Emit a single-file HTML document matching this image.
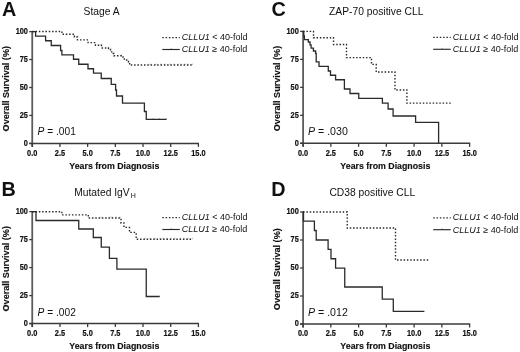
<!DOCTYPE html>
<html><head><meta charset="utf-8"><style>
html,body{margin:0;padding:0;background:#fff;}
svg{display:block;filter:grayscale(1);}
text{font-family:"Liberation Sans", sans-serif;fill:#111;}
.pl{font-size:19.8px;font-weight:bold;}
.tt{font-size:10.3px;}
.tt2{font-size:10.3px;}
.tk{font-size:8.8px;font-weight:bold;stroke:#111;stroke-width:0.2px;}
.ax{font-size:8.8px;font-weight:bold;stroke:#111;stroke-width:0.15px;}
.lg{font-size:9px;}
.ay{font-size:9.1px;font-weight:bold;stroke:#111;stroke-width:0.15px;}
.pv{font-size:10.2px;}
.pv2{font-size:10.6px;}
</style></head><body>
<svg width="520" height="352" viewBox="0 0 520 352">
<rect width="520" height="352" fill="#fff"/>
<text x="2.0" y="15.9" class="pl">A</text>
<text x="83.6" y="15.2" class="tt">Stage A</text>
<line x1="32.25" y1="31" x2="32.25" y2="146.9" stroke="#5c5c5c" stroke-width="1.8"/>
<line x1="29.25" y1="143.4" x2="199" y2="143.4" stroke="#3a3a3a" stroke-width="1.5"/>
<line x1="29.25" y1="31.6" x2="32.25" y2="31.6" stroke="#3a3a3a" stroke-width="1.3"/>
<text transform="translate(27.95 34) scale(0.84 1)" class="tk" text-anchor="end">100</text>
<line x1="29.25" y1="59.55" x2="32.25" y2="59.55" stroke="#3a3a3a" stroke-width="1.3"/>
<text transform="translate(27.95 61.95) scale(0.84 1)" class="tk" text-anchor="end">75</text>
<line x1="29.25" y1="87.5" x2="32.25" y2="87.5" stroke="#3a3a3a" stroke-width="1.3"/>
<text transform="translate(27.95 89.9) scale(0.84 1)" class="tk" text-anchor="end">50</text>
<line x1="29.25" y1="115.45" x2="32.25" y2="115.45" stroke="#3a3a3a" stroke-width="1.3"/>
<text transform="translate(27.95 117.85) scale(0.84 1)" class="tk" text-anchor="end">25</text>
<line x1="29.25" y1="143.4" x2="32.25" y2="143.4" stroke="#3a3a3a" stroke-width="1.3"/>
<text transform="translate(27.95 145.8) scale(0.84 1)" class="tk" text-anchor="end">0</text>
<line x1="32.25" y1="143.4" x2="32.25" y2="146.9" stroke="#3a3a3a" stroke-width="1.3"/>
<text transform="translate(32.25 155.7) scale(0.84 1)" class="tk" text-anchor="middle">0.0</text>
<line x1="59.94" y1="143.4" x2="59.94" y2="146.9" stroke="#3a3a3a" stroke-width="1.3"/>
<text transform="translate(59.94 155.7) scale(0.84 1)" class="tk" text-anchor="middle">2.5</text>
<line x1="87.63" y1="143.4" x2="87.63" y2="146.9" stroke="#3a3a3a" stroke-width="1.3"/>
<text transform="translate(87.63 155.7) scale(0.84 1)" class="tk" text-anchor="middle">5.0</text>
<line x1="115.33" y1="143.4" x2="115.33" y2="146.9" stroke="#3a3a3a" stroke-width="1.3"/>
<text transform="translate(115.33 155.7) scale(0.84 1)" class="tk" text-anchor="middle">7.5</text>
<line x1="143.02" y1="143.4" x2="143.02" y2="146.9" stroke="#3a3a3a" stroke-width="1.3"/>
<text transform="translate(143.02 155.7) scale(0.84 1)" class="tk" text-anchor="middle">10.0</text>
<line x1="170.71" y1="143.4" x2="170.71" y2="146.9" stroke="#3a3a3a" stroke-width="1.3"/>
<text transform="translate(170.71 155.7) scale(0.84 1)" class="tk" text-anchor="middle">12.5</text>
<line x1="198.4" y1="143.4" x2="198.4" y2="146.9" stroke="#3a3a3a" stroke-width="1.3"/>
<text transform="translate(198.4 155.7) scale(0.84 1)" class="tk" text-anchor="middle">15.0</text>
<text x="114.33" y="168.7" class="ax" text-anchor="middle">Years from Diagnosis</text>
<text transform="translate(9.05 88.7) rotate(-90)" class="ay" text-anchor="middle">Overall Survival (%)</text>
<line x1="162.3" y1="37.6" x2="179.8" y2="37.6" stroke="#2a2a2a" stroke-width="1.2" stroke-dasharray="1.5 1.8"/>
<text x="181.8" y="40" class="lg"><tspan font-style="italic">CLLU1</tspan> &lt; 40-fold</text>
<line x1="162.3" y1="49.5" x2="179.8" y2="49.5" stroke="#2a2a2a" stroke-width="1.15"/>
<line x1="171.3" y1="49.5" x2="171.3" y2="48" stroke="#2a2a2a" stroke-width="0.8" opacity="0.5"/>
<text x="181.8" y="52.4" class="lg"><tspan font-style="italic">CLLU1</tspan> ≥ 40-fold</text>
<path d="M32.25 31.6 L35.6 31.6 L35.6 36.1 L45.6 36.1 L45.6 40.75 L51.25 40.75 L51.25 45.5 L60.6 45.5 L60.6 50.5 L61.9 50.5 L61.9 54.9 L73.5 54.9 L73.5 59.25 L78.75 59.25 L78.75 64.25 L88 64.25 L88 68.75 L93.5 68.75 L93.5 73.1 L101.25 73.1 L101.25 78.5 L111.25 78.5 L111.25 84.4 L115.6 84.4 L115.6 90 L116.5 90 L116.5 96 L122.5 96 L122.5 103.1 L144.4 103.1 L144.4 111.5 L146.25 111.5 L146.25 119.4 L166.5 119.4" fill="none" stroke="#2a2a2a" stroke-width="1.3"/>
<line x1="153.1" y1="119.4" x2="153.1" y2="118" stroke="#2a2a2a" stroke-width="0.8" opacity="0.45"/>
<line x1="159.4" y1="119.4" x2="159.4" y2="118" stroke="#2a2a2a" stroke-width="0.8" opacity="0.45"/>
<line x1="166.2" y1="119.4" x2="166.2" y2="118" stroke="#2a2a2a" stroke-width="0.8" opacity="0.45"/>
<path d="M32.25 31.55 L61.9 31.55 L61.9 34.25 L74.4 34.25 L74.4 37 L77.5 37 L77.5 39.9 L88.1 39.9 L88.1 42.6 L95.5 42.6 L95.5 45.2 L101.5 45.2 L101.5 48 L108.5 48 L108.5 49.5 L110.5 49.5 L110.5 51.9 L112.5 51.9 L112.5 53.5 L114 53.5 L114 55.7 L123 55.7 L123 58 L124.3 58 L124.3 60 L128.5 60 L128.5 62 L129.6 62 L129.6 65 L192.5 65" fill="none" stroke="#2a2a2a" stroke-width="1.4" stroke-dasharray="1.5 1.8"/>
<line x1="100.9" y1="45.2" x2="100.9" y2="43.8" stroke="#2a2a2a" stroke-width="0.8" opacity="0.45"/>
<line x1="108.2" y1="48" x2="108.2" y2="46.6" stroke="#2a2a2a" stroke-width="0.8" opacity="0.45"/>
<line x1="121.2" y1="55.7" x2="121.2" y2="54.3" stroke="#2a2a2a" stroke-width="0.8" opacity="0.45"/>
<line x1="150" y1="65" x2="150" y2="63.6" stroke="#2a2a2a" stroke-width="0.8" opacity="0.45"/>
<line x1="156" y1="65" x2="156" y2="63.6" stroke="#2a2a2a" stroke-width="0.8" opacity="0.45"/>
<line x1="161" y1="65" x2="161" y2="63.6" stroke="#2a2a2a" stroke-width="0.8" opacity="0.45"/>
<line x1="165" y1="65" x2="165" y2="63.6" stroke="#2a2a2a" stroke-width="0.8" opacity="0.45"/>
<line x1="170" y1="65" x2="170" y2="63.6" stroke="#2a2a2a" stroke-width="0.8" opacity="0.45"/>
<line x1="174" y1="65" x2="174" y2="63.6" stroke="#2a2a2a" stroke-width="0.8" opacity="0.45"/>
<line x1="178" y1="65" x2="178" y2="63.6" stroke="#2a2a2a" stroke-width="0.8" opacity="0.45"/>
<line x1="181" y1="65" x2="181" y2="63.6" stroke="#2a2a2a" stroke-width="0.8" opacity="0.45"/>
<line x1="185" y1="65" x2="185" y2="63.6" stroke="#2a2a2a" stroke-width="0.8" opacity="0.45"/>
<line x1="188" y1="65" x2="188" y2="63.6" stroke="#2a2a2a" stroke-width="0.8" opacity="0.45"/>
<line x1="192.3" y1="65" x2="192.3" y2="63.6" stroke="#2a2a2a" stroke-width="0.8" opacity="0.45"/>
<text x="37.6" y="135" class="pv"><tspan font-style="italic">P</tspan> = .001</text>
<text x="1.5" y="195.9" class="pl">B</text>
<text x="74.2" y="196.1" class="tt">Mutated IgV<tspan font-size="7" dx="1.1" dy="1.7">H</tspan></text>
<line x1="32.25" y1="211" x2="32.25" y2="327.1" stroke="#5c5c5c" stroke-width="1.8"/>
<line x1="29.25" y1="323.6" x2="199" y2="323.6" stroke="#3a3a3a" stroke-width="1.5"/>
<line x1="29.25" y1="211.6" x2="32.25" y2="211.6" stroke="#3a3a3a" stroke-width="1.3"/>
<text transform="translate(27.95 214) scale(0.84 1)" class="tk" text-anchor="end">100</text>
<line x1="29.25" y1="239.6" x2="32.25" y2="239.6" stroke="#3a3a3a" stroke-width="1.3"/>
<text transform="translate(27.95 242) scale(0.84 1)" class="tk" text-anchor="end">75</text>
<line x1="29.25" y1="267.6" x2="32.25" y2="267.6" stroke="#3a3a3a" stroke-width="1.3"/>
<text transform="translate(27.95 270) scale(0.84 1)" class="tk" text-anchor="end">50</text>
<line x1="29.25" y1="295.6" x2="32.25" y2="295.6" stroke="#3a3a3a" stroke-width="1.3"/>
<text transform="translate(27.95 298) scale(0.84 1)" class="tk" text-anchor="end">25</text>
<line x1="29.25" y1="323.6" x2="32.25" y2="323.6" stroke="#3a3a3a" stroke-width="1.3"/>
<text transform="translate(27.95 326) scale(0.84 1)" class="tk" text-anchor="end">0</text>
<line x1="32.25" y1="323.6" x2="32.25" y2="327.1" stroke="#3a3a3a" stroke-width="1.3"/>
<text transform="translate(32.25 335.9) scale(0.84 1)" class="tk" text-anchor="middle">0.0</text>
<line x1="59.94" y1="323.6" x2="59.94" y2="327.1" stroke="#3a3a3a" stroke-width="1.3"/>
<text transform="translate(59.94 335.9) scale(0.84 1)" class="tk" text-anchor="middle">2.5</text>
<line x1="87.63" y1="323.6" x2="87.63" y2="327.1" stroke="#3a3a3a" stroke-width="1.3"/>
<text transform="translate(87.63 335.9) scale(0.84 1)" class="tk" text-anchor="middle">5.0</text>
<line x1="115.33" y1="323.6" x2="115.33" y2="327.1" stroke="#3a3a3a" stroke-width="1.3"/>
<text transform="translate(115.33 335.9) scale(0.84 1)" class="tk" text-anchor="middle">7.5</text>
<line x1="143.02" y1="323.6" x2="143.02" y2="327.1" stroke="#3a3a3a" stroke-width="1.3"/>
<text transform="translate(143.02 335.9) scale(0.84 1)" class="tk" text-anchor="middle">10.0</text>
<line x1="170.71" y1="323.6" x2="170.71" y2="327.1" stroke="#3a3a3a" stroke-width="1.3"/>
<text transform="translate(170.71 335.9) scale(0.84 1)" class="tk" text-anchor="middle">12.5</text>
<line x1="198.4" y1="323.6" x2="198.4" y2="327.1" stroke="#3a3a3a" stroke-width="1.3"/>
<text transform="translate(198.4 335.9) scale(0.84 1)" class="tk" text-anchor="middle">15.0</text>
<text x="114.33" y="348.9" class="ax" text-anchor="middle">Years from Diagnosis</text>
<text transform="translate(9.05 268.8) rotate(-90)" class="ay" text-anchor="middle">Overall Survival (%)</text>
<line x1="162.3" y1="217.6" x2="179.8" y2="217.6" stroke="#2a2a2a" stroke-width="1.2" stroke-dasharray="1.5 1.8"/>
<text x="181.8" y="220" class="lg"><tspan font-style="italic">CLLU1</tspan> &lt; 40-fold</text>
<line x1="162.3" y1="229.5" x2="179.8" y2="229.5" stroke="#2a2a2a" stroke-width="1.15"/>
<line x1="171.3" y1="229.5" x2="171.3" y2="228" stroke="#2a2a2a" stroke-width="0.8" opacity="0.5"/>
<text x="181.8" y="232.4" class="lg"><tspan font-style="italic">CLLU1</tspan> ≥ 40-fold</text>
<path d="M32.25 211.7 L36 211.7 L36 220.5 L78.75 220.5 L78.75 229 L93.3 229 L93.3 237.5 L101.25 237.5 L101.25 247.2 L109.4 247.2 L109.4 258.4 L116.9 258.4 L116.9 269.1 L146.25 269.1 L146.25 296.5 L159.75 296.5" fill="none" stroke="#2a2a2a" stroke-width="1.3"/>
<path d="M32.25 211.7 L61.9 211.7 L61.9 214.9 L88.3 214.9 L88.3 218 L121 218 L121 223 L124 223 L124 227.4 L129.5 227.4 L129.5 232.4 L136.2 232.4 L136.2 239.2 L192.5 239.2" fill="none" stroke="#2a2a2a" stroke-width="1.4" stroke-dasharray="1.5 1.8"/>
<line x1="101" y1="218" x2="101" y2="216.6" stroke="#2a2a2a" stroke-width="0.8" opacity="0.45"/>
<line x1="110" y1="218" x2="110" y2="216.6" stroke="#2a2a2a" stroke-width="0.8" opacity="0.45"/>
<line x1="112" y1="218" x2="112" y2="216.6" stroke="#2a2a2a" stroke-width="0.8" opacity="0.45"/>
<line x1="116" y1="218" x2="116" y2="216.6" stroke="#2a2a2a" stroke-width="0.8" opacity="0.45"/>
<line x1="120" y1="218" x2="120" y2="216.6" stroke="#2a2a2a" stroke-width="0.8" opacity="0.45"/>
<line x1="145" y1="239.2" x2="145" y2="237.8" stroke="#2a2a2a" stroke-width="0.8" opacity="0.45"/>
<line x1="150" y1="239.2" x2="150" y2="237.8" stroke="#2a2a2a" stroke-width="0.8" opacity="0.45"/>
<line x1="155" y1="239.2" x2="155" y2="237.8" stroke="#2a2a2a" stroke-width="0.8" opacity="0.45"/>
<line x1="160" y1="239.2" x2="160" y2="237.8" stroke="#2a2a2a" stroke-width="0.8" opacity="0.45"/>
<line x1="163" y1="239.2" x2="163" y2="237.8" stroke="#2a2a2a" stroke-width="0.8" opacity="0.45"/>
<line x1="167" y1="239.2" x2="167" y2="237.8" stroke="#2a2a2a" stroke-width="0.8" opacity="0.45"/>
<line x1="171" y1="239.2" x2="171" y2="237.8" stroke="#2a2a2a" stroke-width="0.8" opacity="0.45"/>
<line x1="175" y1="239.2" x2="175" y2="237.8" stroke="#2a2a2a" stroke-width="0.8" opacity="0.45"/>
<line x1="180" y1="239.2" x2="180" y2="237.8" stroke="#2a2a2a" stroke-width="0.8" opacity="0.45"/>
<line x1="184" y1="239.2" x2="184" y2="237.8" stroke="#2a2a2a" stroke-width="0.8" opacity="0.45"/>
<line x1="188" y1="239.2" x2="188" y2="237.8" stroke="#2a2a2a" stroke-width="0.8" opacity="0.45"/>
<line x1="192.3" y1="239.2" x2="192.3" y2="237.8" stroke="#2a2a2a" stroke-width="0.8" opacity="0.45"/>
<text x="37.6" y="315.9" class="pv"><tspan font-style="italic">P</tspan> = .002</text>
<text x="271.5" y="15.9" class="pl">C</text>
<text x="329" y="15.2" class="tt2">ZAP-70 positive CLL</text>
<line x1="303.1" y1="30.8" x2="303.1" y2="146.8" stroke="#5c5c5c" stroke-width="1.8"/>
<line x1="300.1" y1="143.3" x2="470.2" y2="143.3" stroke="#3a3a3a" stroke-width="1.5"/>
<line x1="300.1" y1="31.4" x2="303.1" y2="31.4" stroke="#3a3a3a" stroke-width="1.3"/>
<text transform="translate(298.8 33.8) scale(0.84 1)" class="tk" text-anchor="end">100</text>
<line x1="300.1" y1="59.38" x2="303.1" y2="59.38" stroke="#3a3a3a" stroke-width="1.3"/>
<text transform="translate(298.8 61.77) scale(0.84 1)" class="tk" text-anchor="end">75</text>
<line x1="300.1" y1="87.35" x2="303.1" y2="87.35" stroke="#3a3a3a" stroke-width="1.3"/>
<text transform="translate(298.8 89.75) scale(0.84 1)" class="tk" text-anchor="end">50</text>
<line x1="300.1" y1="115.33" x2="303.1" y2="115.33" stroke="#3a3a3a" stroke-width="1.3"/>
<text transform="translate(298.8 117.73) scale(0.84 1)" class="tk" text-anchor="end">25</text>
<line x1="300.1" y1="143.3" x2="303.1" y2="143.3" stroke="#3a3a3a" stroke-width="1.3"/>
<text transform="translate(298.8 145.7) scale(0.84 1)" class="tk" text-anchor="end">0</text>
<line x1="303.1" y1="143.3" x2="303.1" y2="146.8" stroke="#3a3a3a" stroke-width="1.3"/>
<text transform="translate(303.1 155.6) scale(0.84 1)" class="tk" text-anchor="middle">0.0</text>
<line x1="330.85" y1="143.3" x2="330.85" y2="146.8" stroke="#3a3a3a" stroke-width="1.3"/>
<text transform="translate(330.85 155.6) scale(0.84 1)" class="tk" text-anchor="middle">2.5</text>
<line x1="358.6" y1="143.3" x2="358.6" y2="146.8" stroke="#3a3a3a" stroke-width="1.3"/>
<text transform="translate(358.6 155.6) scale(0.84 1)" class="tk" text-anchor="middle">5.0</text>
<line x1="386.35" y1="143.3" x2="386.35" y2="146.8" stroke="#3a3a3a" stroke-width="1.3"/>
<text transform="translate(386.35 155.6) scale(0.84 1)" class="tk" text-anchor="middle">7.5</text>
<line x1="414.1" y1="143.3" x2="414.1" y2="146.8" stroke="#3a3a3a" stroke-width="1.3"/>
<text transform="translate(414.1 155.6) scale(0.84 1)" class="tk" text-anchor="middle">10.0</text>
<line x1="441.85" y1="143.3" x2="441.85" y2="146.8" stroke="#3a3a3a" stroke-width="1.3"/>
<text transform="translate(441.85 155.6) scale(0.84 1)" class="tk" text-anchor="middle">12.5</text>
<line x1="469.6" y1="143.3" x2="469.6" y2="146.8" stroke="#3a3a3a" stroke-width="1.3"/>
<text transform="translate(469.6 155.6) scale(0.84 1)" class="tk" text-anchor="middle">15.0</text>
<text x="385.35" y="168.6" class="ax" text-anchor="middle">Years from Diagnosis</text>
<text transform="translate(279.9 88.55) rotate(-90)" class="ay" text-anchor="middle">Overall Survival (%)</text>
<line x1="433.2" y1="37.4" x2="450.7" y2="37.4" stroke="#2a2a2a" stroke-width="1.2" stroke-dasharray="1.5 1.8"/>
<text x="452.7" y="39.8" class="lg"><tspan font-style="italic">CLLU1</tspan> &lt; 40-fold</text>
<line x1="433.2" y1="49.3" x2="450.7" y2="49.3" stroke="#2a2a2a" stroke-width="1.15"/>
<line x1="442.2" y1="49.3" x2="442.2" y2="47.8" stroke="#2a2a2a" stroke-width="0.8" opacity="0.5"/>
<text x="452.7" y="52.2" class="lg"><tspan font-style="italic">CLLU1</tspan> ≥ 40-fold</text>
<path d="M303.1 31.4 L303.8 31.4 L303.8 36 L304.4 36 L304.4 39.7 L308.3 39.7 L308.3 42 L310 42 L310 44.8 L311.1 44.8 L311.1 48.2 L313.4 48.2 L313.4 51 L315.6 51 L315.6 53.3 L316.2 53.3 L316.2 61.8 L319 61.8 L319 66.3 L328.3 66.3 L328.3 71 L330.5 71 L330.5 75.25 L335.6 75.25 L335.6 79.75 L344.4 79.75 L344.4 89 L350 89 L350 93.5 L358.75 93.5 L358.75 98.3 L382.4 98.3 L382.4 103.2 L388.1 103.2 L388.1 109 L393.1 109 L393.1 116 L415.6 116 L415.6 122.4 L438.6 122.4 L438.6 143.3" fill="none" stroke="#2a2a2a" stroke-width="1.3"/>
<path d="M303.1 31.4 L313.5 31.4 L313.5 37.75 L333.5 37.75 L333.5 44.5 L346.5 44.5 L346.5 57.6 L371.5 57.6 L371.5 64.4 L376.2 64.4 L376.2 72 L395 72 L395 90 L406.9 90 L406.9 103.1 L451.5 103.1" fill="none" stroke="#2a2a2a" stroke-width="1.4" stroke-dasharray="1.5 1.8"/>
<text x="308" y="135.1" class="pv2"><tspan font-style="italic">P</tspan> = .030</text>
<text x="271.2" y="196.1" class="pl">D</text>
<text x="329.4" y="195.8" class="tt2">CD38 positive CLL</text>
<line x1="303.1" y1="211.4" x2="303.1" y2="327.5" stroke="#5c5c5c" stroke-width="1.8"/>
<line x1="300.1" y1="324" x2="470.2" y2="324" stroke="#3a3a3a" stroke-width="1.5"/>
<line x1="300.1" y1="212" x2="303.1" y2="212" stroke="#3a3a3a" stroke-width="1.3"/>
<text transform="translate(298.8 214.4) scale(0.84 1)" class="tk" text-anchor="end">100</text>
<line x1="300.1" y1="240" x2="303.1" y2="240" stroke="#3a3a3a" stroke-width="1.3"/>
<text transform="translate(298.8 242.4) scale(0.84 1)" class="tk" text-anchor="end">75</text>
<line x1="300.1" y1="268" x2="303.1" y2="268" stroke="#3a3a3a" stroke-width="1.3"/>
<text transform="translate(298.8 270.4) scale(0.84 1)" class="tk" text-anchor="end">50</text>
<line x1="300.1" y1="296" x2="303.1" y2="296" stroke="#3a3a3a" stroke-width="1.3"/>
<text transform="translate(298.8 298.4) scale(0.84 1)" class="tk" text-anchor="end">25</text>
<line x1="300.1" y1="324" x2="303.1" y2="324" stroke="#3a3a3a" stroke-width="1.3"/>
<text transform="translate(298.8 326.4) scale(0.84 1)" class="tk" text-anchor="end">0</text>
<line x1="303.1" y1="324" x2="303.1" y2="327.5" stroke="#3a3a3a" stroke-width="1.3"/>
<text transform="translate(303.1 336.3) scale(0.84 1)" class="tk" text-anchor="middle">0.0</text>
<line x1="330.85" y1="324" x2="330.85" y2="327.5" stroke="#3a3a3a" stroke-width="1.3"/>
<text transform="translate(330.85 336.3) scale(0.84 1)" class="tk" text-anchor="middle">2.5</text>
<line x1="358.6" y1="324" x2="358.6" y2="327.5" stroke="#3a3a3a" stroke-width="1.3"/>
<text transform="translate(358.6 336.3) scale(0.84 1)" class="tk" text-anchor="middle">5.0</text>
<line x1="386.35" y1="324" x2="386.35" y2="327.5" stroke="#3a3a3a" stroke-width="1.3"/>
<text transform="translate(386.35 336.3) scale(0.84 1)" class="tk" text-anchor="middle">7.5</text>
<line x1="414.1" y1="324" x2="414.1" y2="327.5" stroke="#3a3a3a" stroke-width="1.3"/>
<text transform="translate(414.1 336.3) scale(0.84 1)" class="tk" text-anchor="middle">10.0</text>
<line x1="441.85" y1="324" x2="441.85" y2="327.5" stroke="#3a3a3a" stroke-width="1.3"/>
<text transform="translate(441.85 336.3) scale(0.84 1)" class="tk" text-anchor="middle">12.5</text>
<line x1="469.6" y1="324" x2="469.6" y2="327.5" stroke="#3a3a3a" stroke-width="1.3"/>
<text transform="translate(469.6 336.3) scale(0.84 1)" class="tk" text-anchor="middle">15.0</text>
<text x="385.35" y="349.3" class="ax" text-anchor="middle">Years from Diagnosis</text>
<text transform="translate(279.9 269.2) rotate(-90)" class="ay" text-anchor="middle">Overall Suvival (%)</text>
<line x1="433.2" y1="217.8" x2="450.7" y2="217.8" stroke="#2a2a2a" stroke-width="1.2" stroke-dasharray="1.5 1.8"/>
<text x="452.7" y="220.2" class="lg"><tspan font-style="italic">CLLU1</tspan> &lt; 40-fold</text>
<line x1="433.2" y1="229.7" x2="450.7" y2="229.7" stroke="#2a2a2a" stroke-width="1.15"/>
<line x1="442.2" y1="229.7" x2="442.2" y2="228.2" stroke="#2a2a2a" stroke-width="0.8" opacity="0.5"/>
<text x="452.7" y="232.6" class="lg"><tspan font-style="italic">CLLU1</tspan> ≥ 40-fold</text>
<path d="M303.1 212 L303.5 212 L303.5 221.1 L314.4 221.1 L314.4 230.5 L316.2 230.5 L316.2 240 L328.1 240 L328.1 249.4 L331 249.4 L331 258.75 L335.6 258.75 L335.6 268.1 L344.75 268.1 L344.75 287 L382.25 287 L382.25 299.2 L393.3 299.2 L393.3 311.4 L424.4 311.4" fill="none" stroke="#2a2a2a" stroke-width="1.3"/>
<path d="M303.1 212 L347.25 212 L347.25 228 L395.5 228 L395.5 260 L429.4 260" fill="none" stroke="#2a2a2a" stroke-width="1.4" stroke-dasharray="1.5 1.8"/>
<text x="308" y="315.7" class="pv2"><tspan font-style="italic">P</tspan> = .012</text>
</svg>
</body></html>
